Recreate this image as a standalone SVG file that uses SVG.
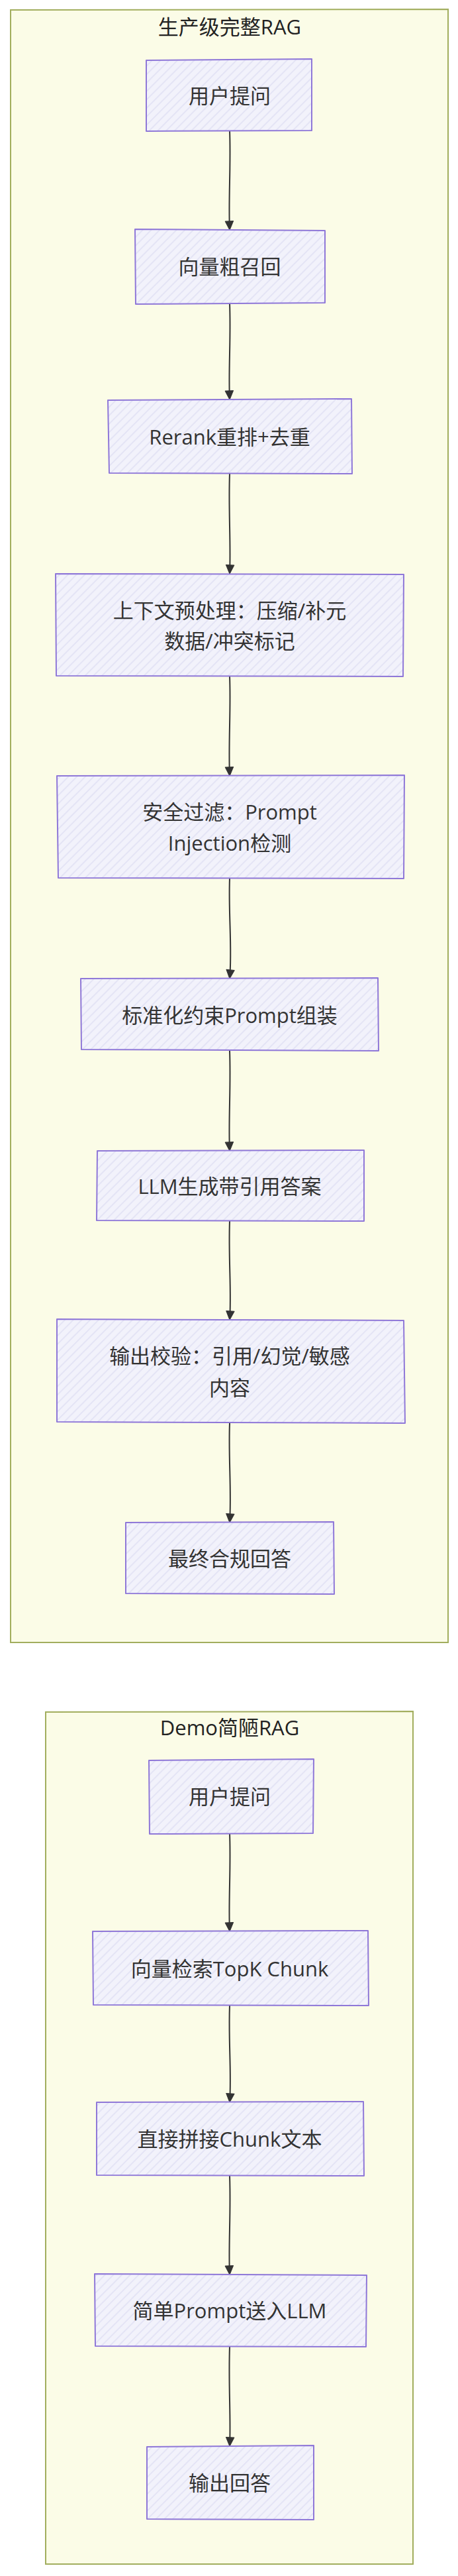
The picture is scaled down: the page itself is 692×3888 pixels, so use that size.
<svg xmlns="http://www.w3.org/2000/svg" width="692" height="3888" viewBox="0 0 692 3888">
<defs>
<pattern id="hach" patternUnits="userSpaceOnUse" width="9" height="9" patternTransform="rotate(45)">
<rect width="9" height="9" fill="#f2f2fb"/>
<line x1="2" y1="0" x2="2" y2="9" stroke="#e4e4f5" stroke-width="2"/>
</pattern>
<marker id="arr" markerUnits="userSpaceOnUse" viewBox="0 0 16 16" markerWidth="15" markerHeight="15" refX="15" refY="8" orient="auto">
<path d="M1,1.5 L15,8 L1,14.5 Z" fill="#333" stroke="#333" stroke-width="1.2" stroke-linejoin="round"/>
</marker>
</defs>
<style>
.frame{fill:#fbfce7;stroke:#a2ae5e;stroke-width:2}
.box{fill:url(#hach);stroke:#8f78d8;stroke-width:2;stroke-linejoin:round}
.lbl{font-family:"Open Sans","Noto Sans CJK SC",sans-serif;font-size:31px;fill:#333;text-anchor:middle;dominant-baseline:central}
.ttl{font-family:"Open Sans","Noto Sans CJK SC",sans-serif;font-size:31px;fill:#222;text-anchor:middle;dominant-baseline:central}
.edge{fill:none;stroke:#333;stroke-width:2;marker-end:url(#arr)}
</style>
<rect width="692" height="3888" fill="#ffffff"/>
<g id="cluster-prod">
<path class="frame" d="M16,15 L677,14 L677,2479 L16,2479 Z"/>
<text class="ttl" x="347" y="40">生产级完整RAG</text>
</g>
<g id="cluster-demo">
<path class="frame" d="M69,2584 L624,2583 L624,3870 L69,3870 Z"/>
<text class="ttl" x="347" y="2607">Demo简陋RAG</text>
</g>
<g id="edges">
<path class="edge" d="M347,197 C349,250 345,300 347,347"/>
<path class="edge" d="M347,458 C349,510 345,560 347,603"/>
<path class="edge" d="M347,715 C345,770 349,820 347,866"/>
<path class="edge" d="M347,1021 C349,1070 345,1120 347,1171"/>
<path class="edge" d="M347,1326 C345,1380 351,1430 347,1477"/>
<path class="edge" d="M347,1586 C349,1640 345,1690 347,1737"/>
<path class="edge" d="M347,1843 C345,1900 350,1950 347,1992"/>
<path class="edge" d="M347,2148 C345,2200 350,2250 347,2298"/>
<path class="edge" d="M347,2767 C349,2820 345,2870 347,2915"/>
<path class="edge" d="M347,3027 C345,3080 350,3130 347,3173"/>
<path class="edge" d="M347,3284 C349,3340 345,3390 347,3433"/>
<path class="edge" d="M347,3542 C345,3600 349,3650 347,3692"/>
</g>
<g id="n1">
<path class="box" d="M221,91 L471,89 L471,197 L221,198 Z"/>
<text class="lbl" x="347" y="144">用户提问</text>
</g>
<g id="n2">
<path class="box" d="M204,346 L491,348 L491,457 L205,459 Z"/>
<text class="lbl" x="347" y="402">向量粗召回</text>
</g>
<g id="n3">
<path class="box" d="M163,604 L531,602 L532,715 L165,714 Z"/>
<text class="lbl" x="347" y="659">Rerank重排+去重</text>
</g>
<g id="n4">
<path class="box" d="M84,866 L610,867 L609,1021 L85,1020 Z"/>
<text class="lbl" x="347" y="921">上下文预处理：压缩/补元</text>
<text class="lbl" x="347" y="967">数据/冲突标记</text>
</g>
<g id="n5">
<path class="box" d="M86,1171 L611,1170 L610,1326 L88,1325 Z"/>
<text class="lbl" x="347" y="1225">安全过滤：Prompt</text>
<text class="lbl" x="347" y="1272">Injection检测</text>
</g>
<g id="n6">
<path class="box" d="M122,1477 L571,1476 L572,1586 L123,1584 Z"/>
<text class="lbl" x="347" y="1532">标准化约束Prompt组装</text>
</g>
<g id="n7">
<path class="box" d="M147,1737 L550,1736 L550,1843 L146,1842 Z"/>
<text class="lbl" x="347" y="1790">LLM生成带引用答案</text>
</g>
<g id="n8">
<path class="box" d="M86,1991 L610,1993 L612,2148 L86,2146 Z"/>
<text class="lbl" x="347" y="2046">输出校验：引用/幻觉/敏感</text>
<text class="lbl" x="347" y="2094">内容</text>
</g>
<g id="n9">
<path class="box" d="M190,2298 L504,2297 L505,2406 L190,2405 Z"/>
<text class="lbl" x="347" y="2352">最终合规回答</text>
</g>
<g id="m1">
<path class="box" d="M225,2657 L474,2655 L473,2767 L226,2768 Z"/>
<text class="lbl" x="347" y="2711">用户提问</text>
</g>
<g id="m2">
<path class="box" d="M140,2915 L556,2914 L557,3027 L141,3026 Z"/>
<text class="lbl" x="347" y="2971">向量检索TopK Chunk</text>
</g>
<g id="m3">
<path class="box" d="M146,3173 L549,3172 L550,3284 L146,3283 Z"/>
<text class="lbl" x="347" y="3228">直接拼接Chunk文本</text>
</g>
<g id="m4">
<path class="box" d="M143,3432 L554,3434 L553,3542 L144,3541 Z"/>
<text class="lbl" x="347" y="3487">简单Prompt送入LLM</text>
</g>
<g id="m5">
<path class="box" d="M222,3693 L474,3691 L474,3803 L222,3802 Z"/>
<text class="lbl" x="347" y="3747">输出回答</text>
</g>
</svg>
